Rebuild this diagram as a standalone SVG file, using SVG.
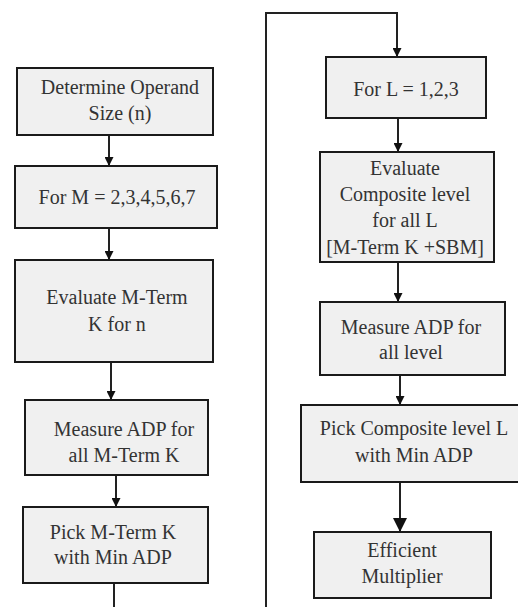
<svg xmlns="http://www.w3.org/2000/svg" width="518" height="607" viewBox="0 0 518 607">
<defs>
<style>
.box{fill:#f0f0f0;stroke:#1a1a1a;stroke-width:2}
.t{font-size:20px;fill:#333;text-anchor:middle}
.c{fill:none;stroke:#222;stroke-width:2}
</style>
<marker id="ah" markerWidth="9" markerHeight="9" refX="8" refY="4.5" orient="auto" markerUnits="userSpaceOnUse" viewBox="0 0 9 9">
<path d="M0,0 L9,4.5 L0,9 Z" fill="#111"/>
</marker>
<marker id="ahb" markerWidth="14" markerHeight="14" refX="13" refY="7" orient="auto" markerUnits="userSpaceOnUse" viewBox="0 0 14 14">
<path d="M0,0 L14,7 L0,14 Z" fill="#111"/>
</marker>
</defs>
<rect width="518" height="607" fill="#fff"/>
<g id="connectors">
<line class="c" x1="109" y1="135" x2="109" y2="165" marker-end="url(#ah)"/>
<line class="c" x1="109" y1="228" x2="109" y2="259" marker-end="url(#ah)"/>
<line class="c" x1="111" y1="362" x2="111" y2="399" marker-end="url(#ah)"/>
<line class="c" x1="116" y1="475" x2="116" y2="506" marker-end="url(#ah)"/>
<line class="c" x1="114" y1="583" x2="114" y2="607"/>
<polyline class="c" points="266,607 266,13 397,13 397,56" marker-end="url(#ah)"/>
<line class="c" x1="398" y1="118" x2="398" y2="151" marker-end="url(#ah)"/>
<line class="c" x1="398" y1="262" x2="398" y2="301" marker-end="url(#ah)"/>
<line class="c" x1="400" y1="375" x2="400" y2="404" marker-end="url(#ah)"/>
<line class="c" x1="400" y1="482" x2="400" y2="531" marker-end="url(#ahb)"/>
</g>
<g font-family="Liberation Serif, Times New Roman, serif">
<g id="n1">
<rect class="box" x="17" y="68" width="196" height="67"/>
<text class="t" x="120" y="94">Determine Operand</text>
<text class="t" x="120" y="120">Size (n)</text>
</g>
<g id="n2">
<rect class="box" x="15" y="166" width="202" height="62"/>
<text class="t" x="117" y="204">For M = 2,3,4,5,6,7</text>
</g>
<g id="n3">
<rect class="box" x="15" y="260" width="198" height="102"/>
<text class="t" x="117" y="304">Evaluate M-Term</text>
<text class="t" x="117" y="331">K for n</text>
</g>
<g id="n4">
<rect class="box" x="25" y="400" width="183" height="75"/>
<text class="t" x="124" y="436">Measure ADP for</text>
<text class="t" x="124" y="462">all M-Term K</text>
</g>
<g id="n5">
<rect class="box" x="23" y="507" width="185" height="76"/>
<text class="t" x="113" y="539">Pick M-Term K</text>
<text class="t" x="113" y="564">with Min ADP</text>
</g>
<g id="r1">
<rect class="box" x="326" y="57" width="160" height="61"/>
<text class="t" x="406" y="96">For L = 1,2,3</text>
</g>
<g id="r2">
<rect class="box" x="320" y="152" width="174" height="110"/>
<text class="t" x="405" y="175">Evaluate</text>
<text class="t" x="405" y="201">Composite level</text>
<text class="t" x="405" y="227">for all L</text>
<text class="t" x="405" y="254">[M-Term K +SBM]</text>
</g>
<g id="r3">
<rect class="box" x="320" y="302" width="185" height="73"/>
<text class="t" x="411" y="334">Measure ADP for</text>
<text class="t" x="411" y="359">all level</text>
</g>
<g id="r4">
<rect class="box" x="301" y="405" width="222" height="77"/>
<text class="t" x="414" y="435">Pick Composite level L</text>
<text class="t" x="414" y="462">with Min ADP</text>
</g>
<g id="r5">
<rect class="box" x="314" y="532" width="177" height="66"/>
<text class="t" x="402" y="557">Efficient</text>
<text class="t" x="402" y="583">Multiplier</text>
</g>
</g>
</svg>
